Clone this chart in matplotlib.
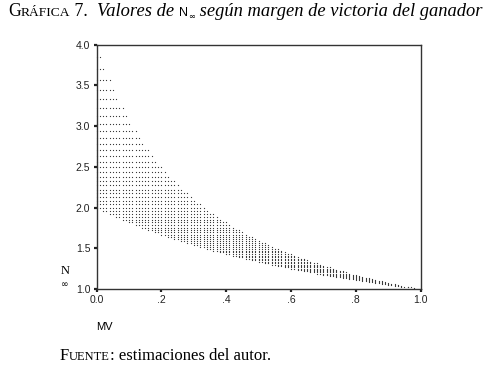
import matplotlib
matplotlib.use('Agg')
import matplotlib.pyplot as plt

# each row of dots = one winner share (percent); MV runs from low to high in 1-point steps
winner_pct = [25, 26, 27, 28, 29, 30, 31, 32, 33, 34, 35, 36, 37, 38, 39, 40, 41, 42, 43,
              44, 45, 46, 47, 48, 49, 50, 51, 52, 53, 54, 55, 56, 57, 58, 59, 60, 61, 62,
              63, 64, 65, 66, 67, 68, 69, 70, 71, 72, 73, 74, 75, 76, 77, 78, 79, 80, 81,
              82, 83, 84, 85, 86, 87, 88, 89, 90, 91, 92, 93, 94, 95, 96, 97, 98, 99, 100]
mv_low_pct = [0] * 26 + [2, 4, 6, 8, 10, 12, 14, 16, 18, 20, 22, 24, 26, 28, 30, 32, 34,
                         36, 38, 40, 42, 44, 46, 48, 50, 52, 54, 56, 58, 60, 62, 64, 66,
                         68, 70, 72, 74, 76, 78, 80, 82, 84, 86, 88, 90, 92, 94, 96, 98, 100]
mv_high_pct = [0, 1, 2, 4, 5, 6, 8, 9, 10, 12, 13, 14, 16, 17, 18, 20, 21, 22, 24, 25,
               26, 28, 29, 30, 32, 33, 34, 36, 37, 38, 40, 41, 42, 44, 45, 46, 48, 49,
               50, 52, 53, 54, 56, 57, 58, 60, 61, 62, 64, 65, 66, 68, 69, 70, 72, 73,
               74, 76, 77, 78, 80, 81, 82, 84, 85, 86, 88, 89, 90, 92, 93, 94, 96, 97,
               98, 100]

x_ticks = [0.0, 0.2, 0.4, 0.6, 0.8, 1.0]
x_tick_labels = ['0.0', '.2', '.4', '.6', '.8', '1.0']
y_ticks = [1.0, 1.5, 2.0, 2.5, 3.0, 3.5, 4.0]
y_tick_labels = ['1.0', '1.5', '2.0', '2.5', '3.0', '3.5', '4.0']

SERIF = 'Liberation Serif'
SANS = 'Liberation Sans'


def build_points():
    xs, ys = [], []
    for p1, lo, hi in zip(winner_pct, mv_low_pct, mv_high_pct):
        for mv in range(lo, hi + 1):
            xs.append(mv / 100)
            ys.append(100 / p1)
    return xs, ys


def text_run(fig, x, y, pieces):
    # draw text pieces one after another on a baseline (figure pixels)
    renderer = fig.canvas.get_renderer()
    cur = x
    for s, kw, dy in pieces:
        t = fig.text(cur / fig.bbox.width, 1 - (y - dy) / fig.bbox.height, s,
                     va='baseline', ha='left', **kw)
        bb = t.get_window_extent(renderer)
        cur += bb.width


fig = plt.figure(figsize=(4.88, 3.65), dpi=100)
ax = fig.add_axes([0.198, 0.208, 0.664, 0.6695])

xs, ys = build_points()
ax.plot(xs, ys, linestyle='none', marker='s', markersize=0.8, markeredgewidth=0,
        color='#3a3a3a', clip_on=False)

ax.set_xlim(0, 1)
ax.set_ylim(1, 4)
ax.set_xticks(x_ticks)
ax.set_xticklabels(x_tick_labels)
ax.set_yticks(y_ticks)
ax.set_yticklabels(y_tick_labels)
ax.tick_params(direction='out', length=2.5, width=1.6, pad=2, labelsize=7.5, colors='#222')
for lab in ax.get_xticklabels() + ax.get_yticklabels():
    lab.set_fontfamily(SANS)
for sp in ax.spines.values():
    sp.set_linewidth(1.0)
    sp.set_color('#333')

# axis labels
fig.text(65 / 488, 1 - 271 / 365, 'N', family=SERIF, fontsize=9, ha='center', va='center')
fig.text(65 / 488, 1 - 284 / 365, '\u221e', family='DejaVu Sans', fontsize=6.5, ha='center', va='center')
fig.text(96 / 488, 1 - 327 / 365, 'MV', family=SANS, fontsize=8, ha='left', va='center')

# title and source
big = dict(family=SERIF, fontsize=12.8)
small = dict(family=SERIF, fontsize=9.7)
ital = dict(family=SERIF, fontsize=13.3, style='italic')
text_run(fig, 8, 16, [
    ('G', big, 0), ('RÁFICA', small, 0), (' 7.  ', big, 0),
    ('Valores de ', ital, 0), ('N', dict(family=SANS, fontsize=9), 0),
    ('\u221e', dict(family='DejaVu Sans', fontsize=6), -3),
    (' según margen de victoria del ganador', ital, 0),
])
fsrc = dict(family=SERIF, fontsize=12)
text_run(fig, 60, 360, [
    ('F', fsrc, 0), ('UENTE', dict(family=SERIF, fontsize=9), 0),
    (': estimaciones del autor.', fsrc, 0),
])

fig.savefig('out.png', dpi=100)
